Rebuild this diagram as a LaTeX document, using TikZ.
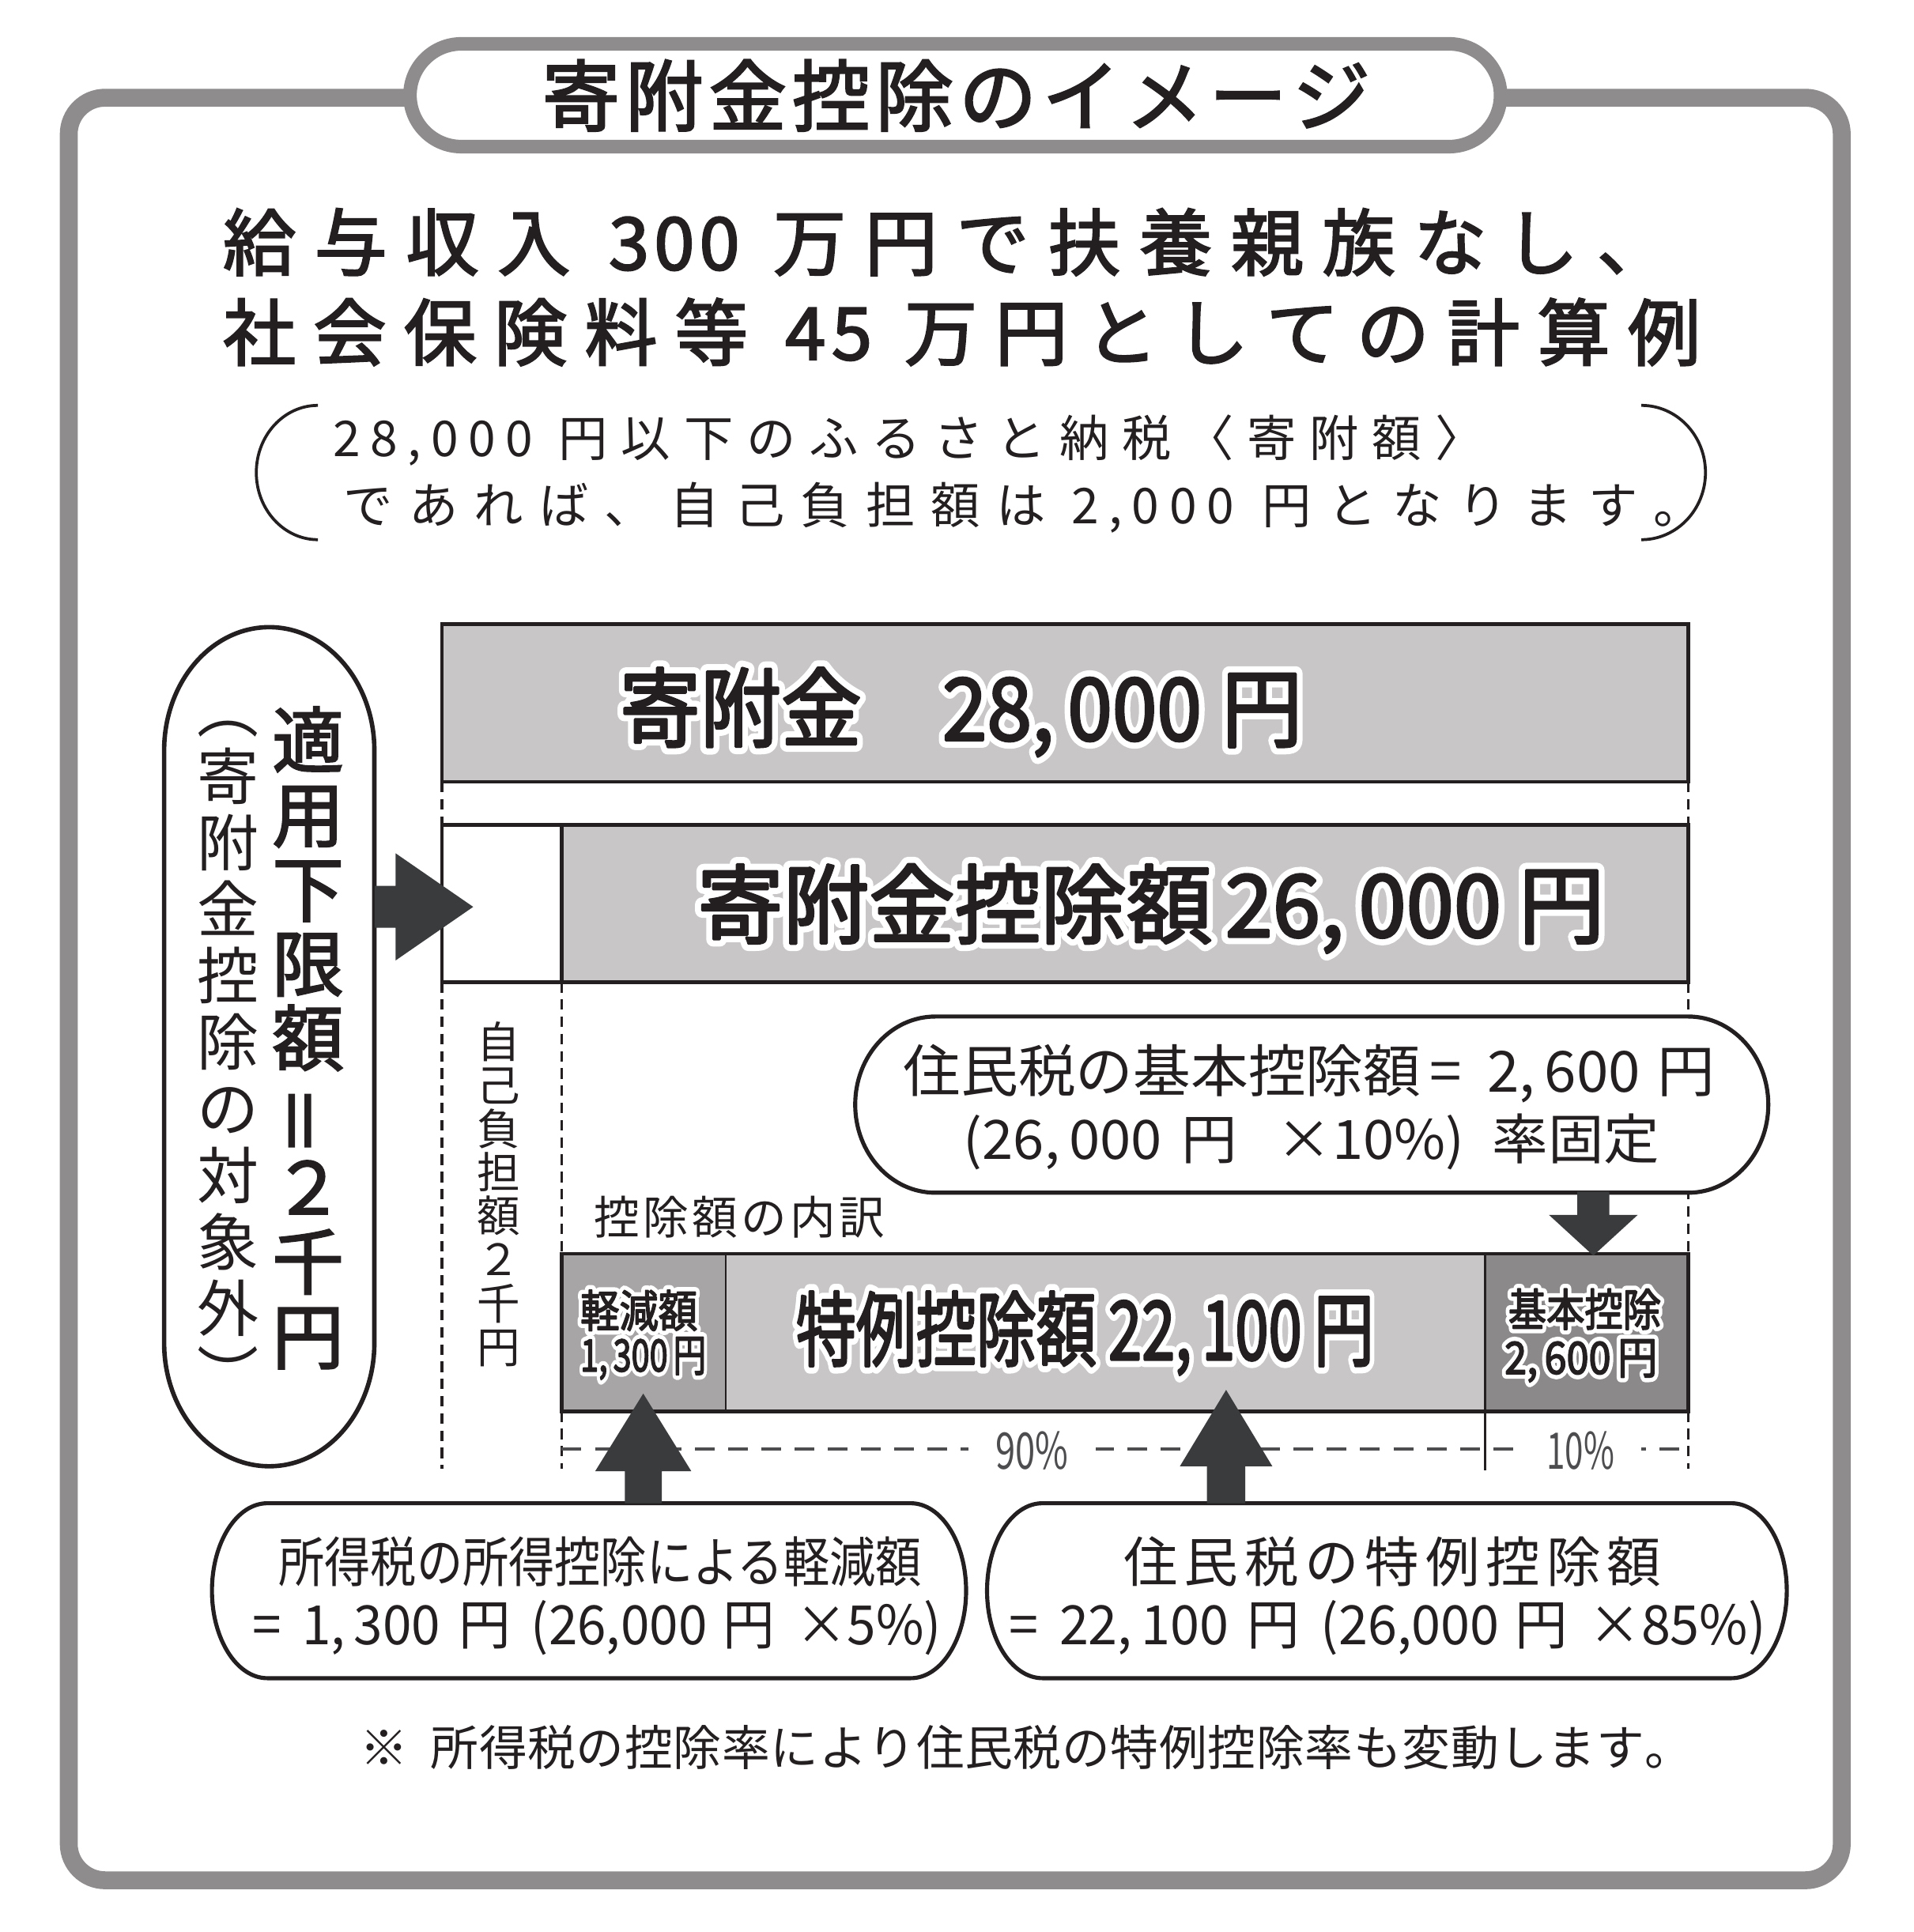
\documentclass[tikz,border=0pt]{standalone}
\usepackage{fontspec}
\usepackage{graphicx}
\setmainfont{Noto Sans CJK JP}
\newfontfamily\medfont[FakeBold=2.5]{Noto Sans CJK JP}
\definecolor{framegray}{HTML}{8E8C8D}
\definecolor{boxgray}{HTML}{C8C6C7}
\definecolor{cellgray}{HTML}{A7A5A6}
\definecolor{darkcell}{HTML}{8B898A}
\definecolor{arrowgray}{HTML}{3A3B3D}
\definecolor{ink}{HTML}{231F20}
\definecolor{pctgray}{HTML}{4D4D4F}
% spread items over a fixed width
\def\spreadstop{SPREADSTOP}
\def\spreadA#1{#1\spreadB}
\def\spreadB#1{\ifx\spreadstop#1\else\hfill#1\expandafter\spreadB\fi}
\newcommand\spread[2]{\hbox to #1{\spreadA#2\spreadstop}}
% letter-spaced digits
\newlength\lsk
\def\lsA#1{#1\lsB}
\def\lsB#1{\ifx\spreadstop#1\else\kern\lsk#1\expandafter\lsB\fi}
\newcommand\lsd[2]{\setlength\lsk{#1}\lsA#2\spreadstop}
% horizontal fit
\newcommand\fitw[2]{\resizebox{#1}{\height}{#2}}
% white halo (stroked white copy) under a slightly emboldened text
\newcommand\halo[3]{{\leavevmode
  \rlap{\color{white}\special{pdf:literal direct 1 Tr #1 w 1 j 1 J}#3\special{pdf:literal direct 0 Tr}}%
  \special{pdf:literal direct 2 Tr #2 w 1 j}#3\special{pdf:literal direct 0 Tr}}}
\tikzset{
 txt/.style={inner sep=0pt, outer sep=0pt, text=ink},
 boxline/.style={draw=ink, line width=2.9pt},
 vdash/.style={draw=ink, line width=2.4pt, dash pattern=on 8.5pt off 5.5pt},
 hdash/.style={draw=pctgray, line width=2.6pt, dash pattern=on 16pt off 11pt},
 pill/.style={draw=ink, line width=3.3pt, fill=white},
 blockarrow/.style={fill=arrowgray},
 divider/.style={draw=ink, line width=1.8pt},
}
\begin{document}
\begin{tikzpicture}[x=1pt,y=1pt]
\useasboundingbox (0,0) rectangle (1553,-1568);
\fill[white] (0,0) rectangle (1553,-1568);
% outer frame
\draw[draw=framegray, line width=14.5pt, rounded corners=29.5pt] (55.8,-79.3) rectangle (1494.6,-1526);
% title pill
\draw[draw=framegray, fill=white, line width=11pt] (374.4,-35.6) -- (1176,-35.6)
  arc[start angle=90, end angle=-90, radius=41.7pt] -- (374.4,-119)
  arc[start angle=270, end angle=90, radius=41.7pt] -- cycle;
\node[txt, anchor=west, font={\medfont\fontsize{63}{63}\selectfont}] (title) at (440,-77.5)
  {\spread{672pt}{寄附金控除のイメージ}};
% headline
\node[txt, anchor=west, font={\medfont\fontsize{59}{59}\selectfont}] (sub1) at (181,-196.5)
  {\spread{1174pt}{給与収入{\hspace{16pt}\lsd{4pt}{300}\hspace{12pt}}万円で扶養親族なし、}};
\node[txt, anchor=west, font={\medfont\fontsize{59}{59}\selectfont}] (sub2) at (181,-269.5)
  {\spread{1199pt}{社会保険料等{\hspace{16pt}\lsd{5pt}{45}\hspace{12pt}}万円としての計算例}};
% bracketed note
\draw[ink, line width=2.4pt] (258,-329) arc[start angle=90, end angle=270, x radius=50pt, y radius=54.5pt];
\draw[ink, line width=2.4pt] (1332,-329) arc[start angle=90, end angle=-90, x radius=52pt, y radius=54.5pt];
\node[txt, anchor=west, font={\fontsize{40}{40}\selectfont}] (lineA) at (270.5,-357.5)
  {\spread{934pt}{{\lsd{8pt}{28,000}\hspace{10pt}}円以下のふるさと納税〈寄附額〉}};
\node[txt, anchor=west, font={\fontsize{40}{40}\selectfont}] (lineB) at (279,-412)
  {\spread{1103pt}{であれば、自己負担額は{\hspace{8pt}\lsd{8pt}{2,000}\hspace{10pt}}円となります。}};
% boxes
\draw[boxline, fill=boxgray] (358.5,-506.5) rectangle (1370,-634.5);
\draw[boxline, fill=white] (358.5,-669.5) rectangle (455.8,-797);
\draw[boxline, fill=boxgray] (455.8,-669.5) rectangle (1370,-797);
% breakdown bar
\fill[cellgray] (455.8,-1017.5) rectangle (589,-1145.5);
\fill[boxgray] (589,-1017.5) rectangle (1205,-1145.5);
\fill[darkcell] (1205,-1017.5) rectangle (1370,-1145.5);
\draw[divider] (589,-1017.5) -- (589,-1145.5);
\draw[divider] (1205,-1017.5) -- (1205,-1145.5);
\draw[boxline] (455.8,-1017.5) rectangle (1370,-1145.5);
% dashed guides
\draw[vdash] (358.5,-634.5) -- (358.5,-669.5);
\draw[vdash] (1370,-634.5) -- (1370,-669.5);
\draw[vdash] (358.5,-797) -- (358.5,-1192);
\draw[vdash] (455.8,-797) -- (455.8,-1017.5);
\draw[vdash] (455.8,-1145.5) -- (455.8,-1192);
\draw[vdash] (1370,-797) -- (1370,-1017.5);
\draw[vdash] (1370,-1145.5) -- (1370,-1192);
\draw[divider] (1205,-1145.5) -- (1205,-1193);
\draw[hdash] (455.8,-1176) -- (1370,-1176);
\node[fill=white, inner xsep=22pt, inner ysep=3pt, text=pctgray, font={\fontsize{41}{41}\selectfont}] (p90) at (837.5,-1177) {\fitw{59pt}{90\%}};
\node[fill=white, inner xsep=22pt, inner ysep=3pt, text=pctgray, font={\fontsize{41}{41}\selectfont}] (p10) at (1282.5,-1177) {\fitw{55pt}{10\%}};
% left pill
\draw[draw=ink, line width=3.6pt, fill=white] (133.2,-609) arc[start angle=180, end angle=0, x radius=85.3pt, y radius=100pt]
  -- (303.8,-1090) arc[start angle=0, end angle=-180, x radius=85.3pt, y radius=100pt] -- cycle;
\node[txt, align=center, font={\medfont\fontsize{58}{60.5}\selectfont}] (limit) at (250,-842.3)
  {適\\用\\下\\限\\額\\\rotatebox[origin=c]{90}{＝}\\２\\千\\円};
\node[txt, align=center, font={\fontsize{50}{54}\selectfont}] (excluded) at (185,-860)
  {︵\\寄\\附\\金\\控\\除\\の\\対\\象\\外\\︶};
\node[txt, align=center, font={\fontsize{35}{35.4}\selectfont}] (selfpay) at (405,-969)
  {自\\己\\負\\担\\額\\２\\千\\円};
% basic deduction pill
\draw[pill] (759,-825) -- (1370,-825) arc[start angle=90, end angle=-90, x radius=65pt, y radius=71.5pt]
  -- (759,-968) arc[start angle=270, end angle=90, x radius=65pt, y radius=71.5pt] -- cycle;
\node[txt, anchor=west, font={\fontsize{46}{46}\selectfont}] (kl1) at (733,-871.6)
  {\fitw{659pt}{住民税の基本控除額\hspace{.15em}=\hspace{.45em}2,\,600\hspace{.3em}円}};
\node[txt, anchor=west, font={\fontsize{44}{44}\selectfont}] (kl2) at (782,-927)
  {\fitw{565pt}{(26,\,000\hspace{.35em}円\hspace{.7em}×10\%)\hspace{.5em}率固定}};
\node[txt, anchor=west, font={\fontsize{37}{37}\selectfont}] (breakdownlabel) at (482,-988)
  {\spread{236pt}{控除額の内訳}};
% bottom pills
\draw[pill] (217,-1220) -- (739,-1220) arc[start angle=90, end angle=-90, x radius=45pt, y radius=71pt]
  -- (217,-1362) arc[start angle=270, end angle=90, x radius=45pt, y radius=71pt] -- cycle;
\draw[pill] (846,-1220) -- (1405,-1220) arc[start angle=90, end angle=-90, x radius=45pt, y radius=71pt]
  -- (846,-1362) arc[start angle=270, end angle=90, x radius=45pt, y radius=71pt] -- cycle;
\node[txt, anchor=west, font={\fontsize{44}{44}\selectfont}] (bl1) at (226,-1267.5)
  {\fitw{522pt}{所得税の所得控除による軽減額}};
\node[txt, anchor=west, font={\fontsize{44}{44}\selectfont}] (bl2) at (205,-1321)
  {\fitw{559pt}{=\hspace{.4em}1,\,300\hspace{.35em}円\hspace{.4em}(26,000\hspace{.3em}円\hspace{.4em}×5\%)}};
\node[txt, anchor=west, font={\fontsize{44}{44}\selectfont}] (br1) at (912,-1267.5)
  {\spread{436pt}{住民税の特例控除額}};
\node[txt, anchor=west, font={\fontsize{44}{44}\selectfont}] (br2) at (819,-1321)
  {\fitw{614pt}{=\hspace{.4em}22,\,100\hspace{.35em}円\hspace{.4em}(26,000\hspace{.3em}円\hspace{.4em}×85\%)}};
% block arrows
\fill[blockarrow] (304,-719) -- (321,-719) -- (321,-692.5) -- (384,-736) -- (321,-779.5) -- (321,-753) -- (304,-753) -- cycle;
\fill[blockarrow] (507,-1220) -- (507,-1194) -- (483,-1194) -- (522,-1131) -- (561,-1194) -- (537,-1194) -- (537,-1220) -- cycle;
\fill[blockarrow] (979.5,-1220) -- (979.5,-1190) -- (957.5,-1190) -- (995,-1128) -- (1032.5,-1190) -- (1010.5,-1190) -- (1010.5,-1220) -- cycle;
\fill[blockarrow] (1280,-967) -- (1306,-967) -- (1306,-986) -- (1329,-986) -- (1293,-1019) -- (1257,-986) -- (1280,-986) -- cycle;
% haloed amounts
\node[txt, anchor=west, font={\fontsize{70}{70}\selectfont}] (donation) at (503,-578)
  {\halo{12}{2}{\fitw{554pt}{寄附金\hspace{1em}28,\,000\hspace{.25em}円}}};
\node[txt, anchor=west, font={\fontsize{70}{70}\selectfont}] (deduction) at (566,-737.5)
  {\halo{12}{2}{\fitw{736pt}{寄附金控除額\hspace{.15em}26,\,000\hspace{.2em}円}}};
\node[txt, anchor=west, font={\fontsize{66}{66}\selectfont}] (special) at (646,-1082)
  {\halo{12}{2}{\fitw{469pt}{特例控除額\hspace{.2em}22,\,100\hspace{.2em}円}}};
\node[txt, font={\fontsize{36}{36}\selectfont}] (reduce1) at (518.5,-1063.5) {\halo{8}{1.1}{\fitw{95pt}{軽減額}}};
\node[txt, font={\fontsize{36}{36}\selectfont}] (reduce2) at (522,-1102.5) {\halo{8}{1.1}{\fitw{102pt}{1,\,300\,円}}};
\node[txt, font={\fontsize{36}{36}\selectfont}] (basic1) at (1286,-1062.5) {\halo{8}{1.1}{\fitw{124pt}{基本控除}}};
\node[txt, font={\fontsize{36}{36}\selectfont}] (basic2) at (1283,-1104.5) {\halo{8}{1.1}{\fitw{124pt}{2,\,600\,円}}};
% footnote
\node[txt, anchor=west, font={\fontsize{39}{39}\selectfont}] (note) at (292,-1418)
  {\spread{1082pt}{{※\hspace{18pt}}所得税の控除率により住民税の特例控除率も変動します。}};
\end{tikzpicture}
\end{document}
